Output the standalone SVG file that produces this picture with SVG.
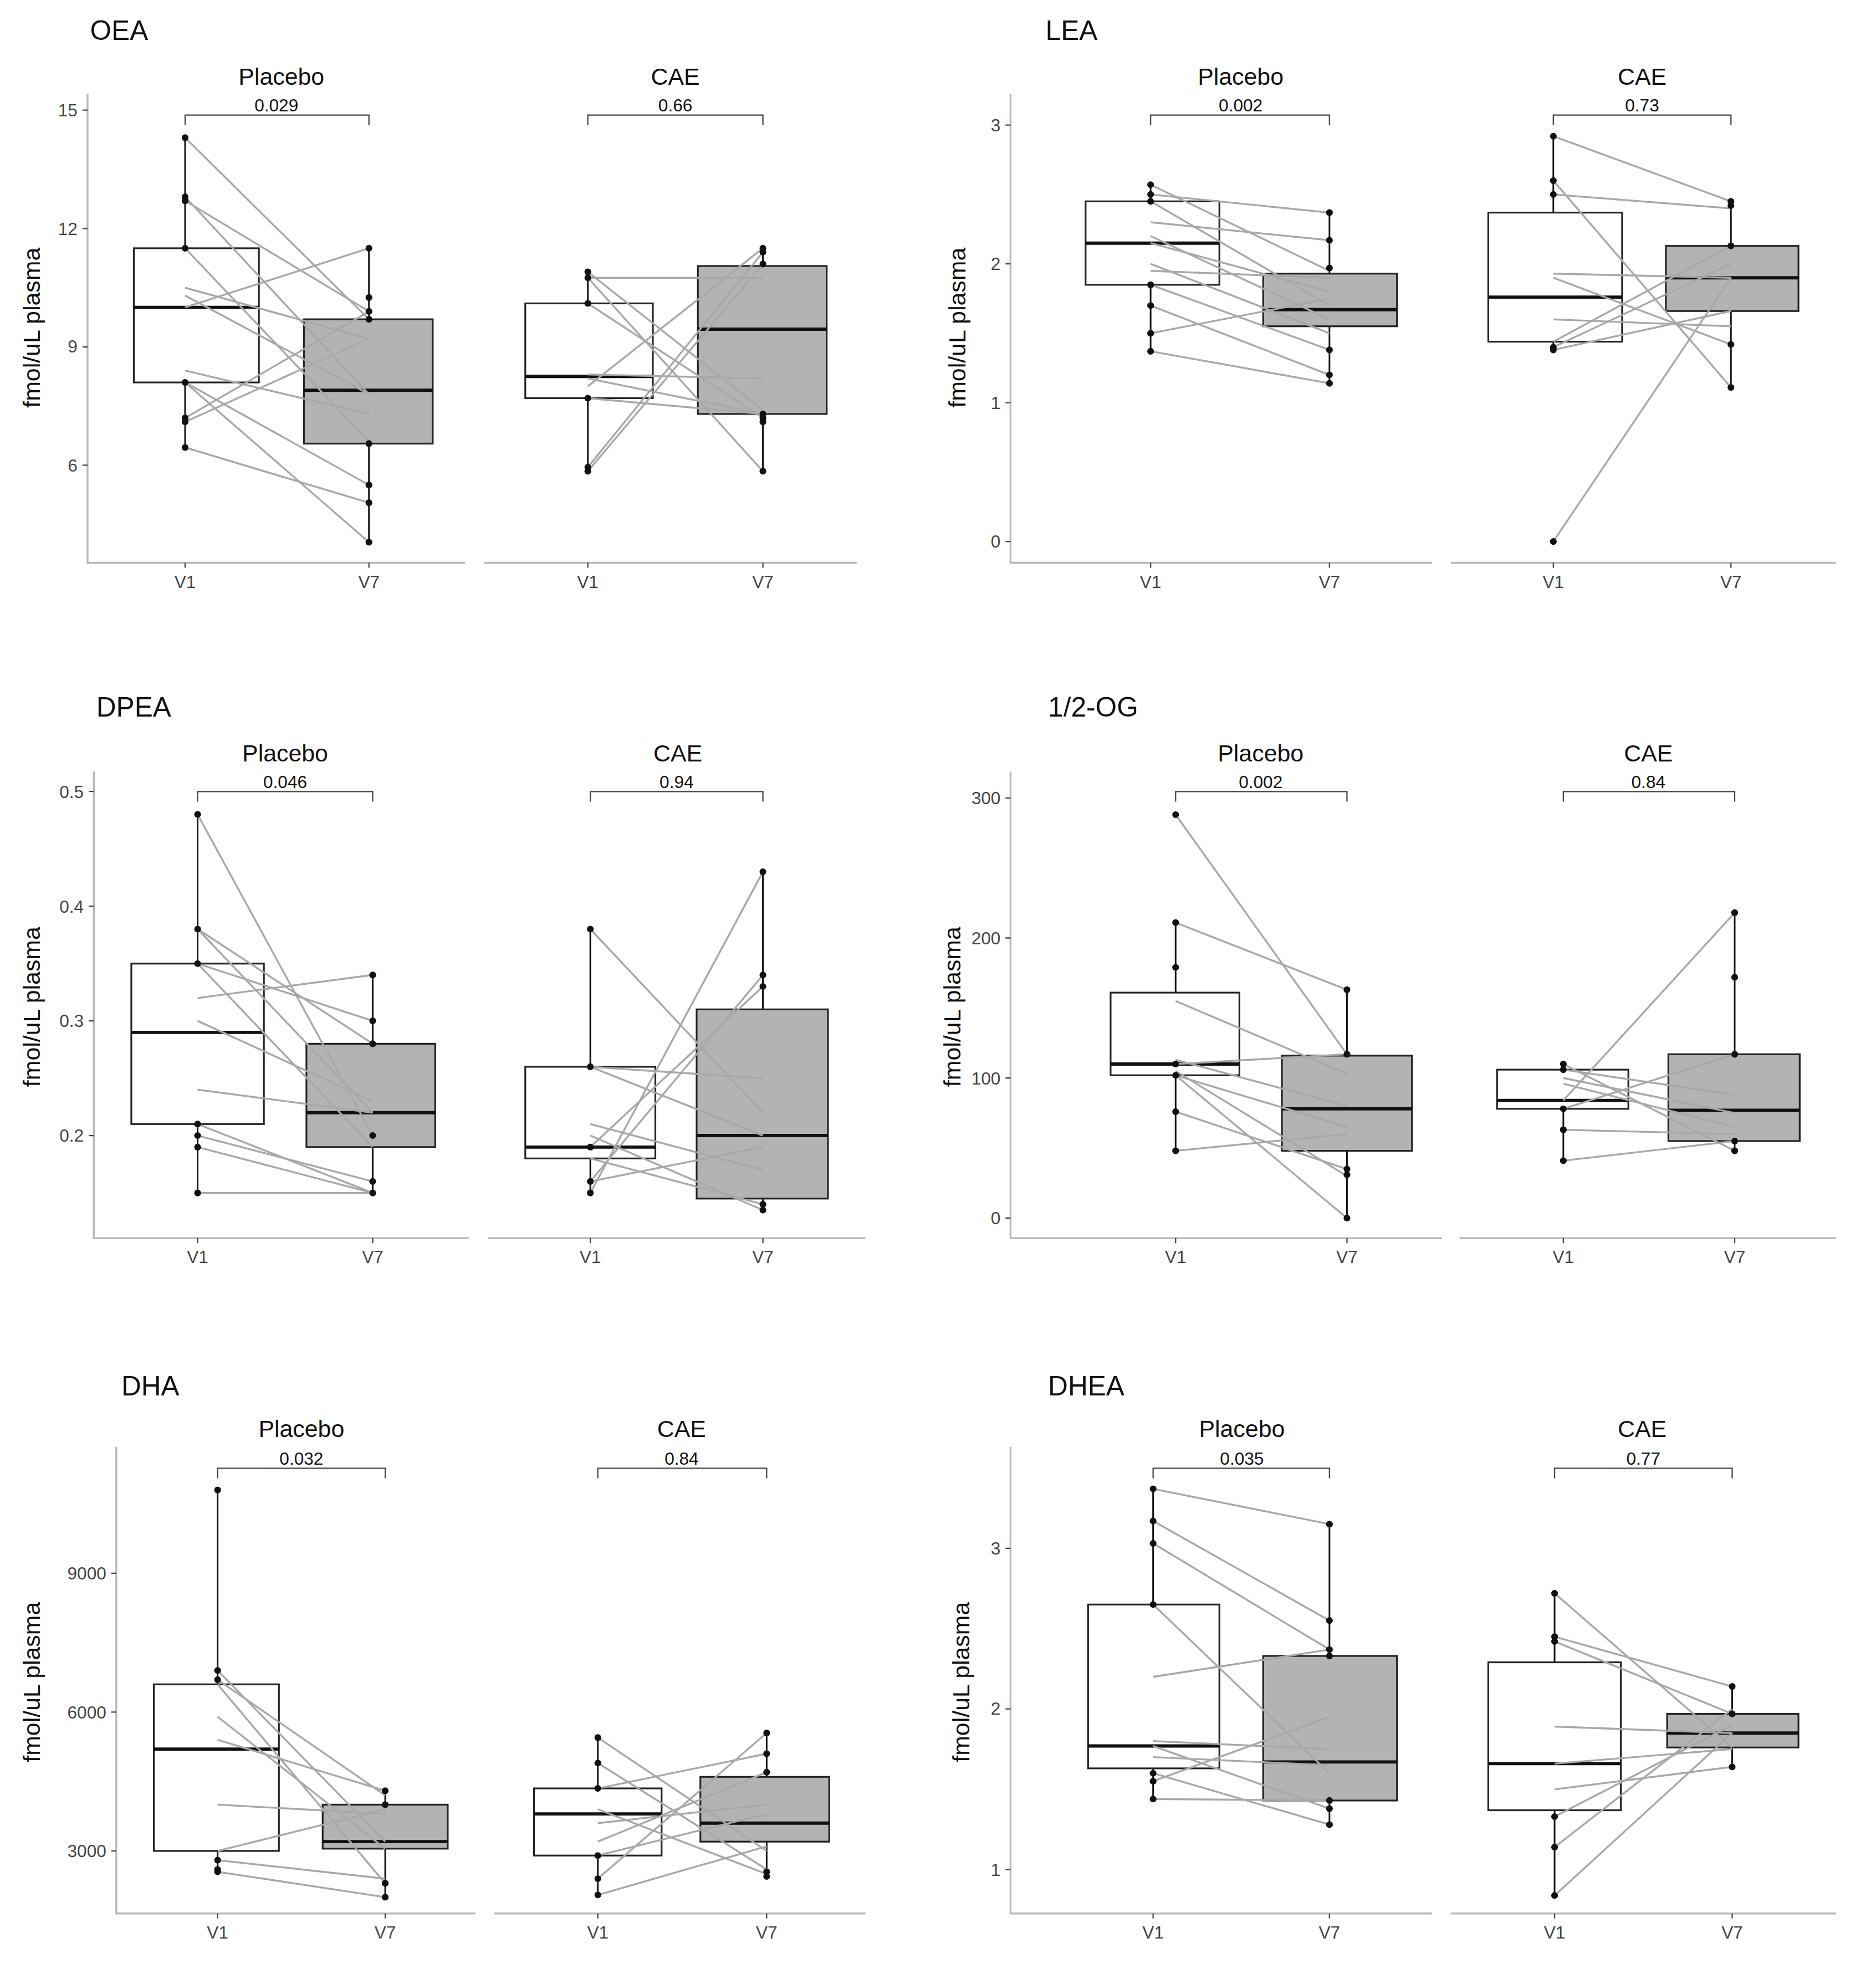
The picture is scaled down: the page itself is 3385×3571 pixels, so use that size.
<svg xmlns="http://www.w3.org/2000/svg" width="3385" height="3571" viewBox="0 0 3385 3571">
<style>
text{font-family:"Liberation Sans",Arial,sans-serif;fill:#111}
.t{font-size:22px}.s{font-size:19px;text-anchor:middle}.p{font-size:14px;text-anchor:middle}
.yl{font-size:14px;text-anchor:end;fill:#444}.xl{font-size:14px;text-anchor:middle;fill:#444}
.ya{font-size:19px;text-anchor:middle}
.ax{stroke:#b8b8b8;stroke-width:1.5;fill:none}
.tk{stroke:#444;stroke-width:1}
.w{stroke:#111;stroke-width:1.3}
.b0{fill:#fff;stroke:#222;stroke-width:1.4}.b1{fill:#b3b3b3;stroke:#222;stroke-width:1.4}
.m{stroke:#111;stroke-width:2.6}
.g{stroke:#a8a8a8;stroke-width:1.5}
.br{stroke:#444;stroke-width:1;fill:none}
circle{fill:#111;r:2.7}
</style>
<rect width="3385" height="3571" fill="#fff"/>
<g transform="scale(2.25667)">
<g id="oea">
<text class="t" x="72" y="32">OEA</text>
<text class="s" x="225" y="68">Placebo</text><text class="s" x="540" y="68">CAE</text>
<path class="br" d="M148,100V92H295V100M470,100V92H610V100"/>
<text class="p" x="221" y="89">0.029</text><text class="p" x="540" y="89">0.66</text>
<path class="ax" d="M70,75V450H372M387,450H685"/>
<path class="tk" d="M66,88H70M66,182.7H70M66,277.4H70M66,372H70M148,450v4M295,450v4M470,450v4M610,450v4"/>
<text class="yl" x="62" y="93">15</text><text class="yl" x="62" y="188">12</text><text class="yl" x="62" y="282">9</text><text class="yl" x="62" y="377">6</text>
<text class="xl" x="148" y="470">V1</text><text class="xl" x="295" y="470">V7</text><text class="xl" x="470" y="470">V1</text><text class="xl" x="610" y="470">V7</text>
<text class="ya" transform="translate(32,262) rotate(-90)">fmol/uL plasma</text>
<line class="w" x1="148" y1="110.1" x2="148" y2="357.8"/><line class="w" x1="295" y1="198.5" x2="295" y2="433.6"/>
<line class="w" x1="470" y1="217.4" x2="470" y2="376.8"/><line class="w" x1="610" y1="198.5" x2="610" y2="376.8"/>
<rect class="b0" x="107" y="198.5" width="100" height="107.3"/><line class="m" x1="107" x2="207" y1="245.8" y2="245.8"/>
<rect class="b1" x="243" y="255.3" width="103" height="99.4"/><line class="m" x1="243" x2="346" y1="312.1" y2="312.1"/>
<rect class="b0" x="420" y="242.6" width="102" height="75.8"/><line class="m" x1="420" x2="522" y1="301" y2="301"/>
<rect class="b1" x="558" y="212.7" width="103" height="118.3"/><line class="m" x1="558" x2="661" y1="263.2" y2="263.2"/>
<g class="g">
<line x1="148" y1="110.1" x2="295" y2="255.3"/><line x1="148" y1="157.4" x2="295" y2="315.2"/><line x1="148" y1="160.6" x2="295" y2="249"/>
<line x1="148" y1="198.5" x2="295" y2="353.1"/><line x1="148" y1="230" x2="295" y2="271"/><line x1="148" y1="236.3" x2="295" y2="315.2"/>
<line x1="148" y1="296.3" x2="295" y2="331"/><line x1="148" y1="305.8" x2="295" y2="433.6"/><line x1="148" y1="305.8" x2="295" y2="387.8"/>
<line x1="148" y1="334.2" x2="295" y2="249"/><line x1="148" y1="337.3" x2="295" y2="271"/><line x1="148" y1="357.8" x2="295" y2="402"/>
<line x1="148" y1="245.8" x2="295" y2="198.5"/>
<line x1="470" y1="222.1" x2="610" y2="222.1"/><line x1="470" y1="217.4" x2="610" y2="327.9"/><line x1="470" y1="242.6" x2="610" y2="334.2"/>
<line x1="470" y1="299.5" x2="610" y2="302.6"/><line x1="470" y1="302.6" x2="610" y2="331"/><line x1="470" y1="318.4" x2="610" y2="331"/>
<line x1="470" y1="373.6" x2="610" y2="201.6"/><line x1="470" y1="376.8" x2="610" y2="211.1"/><line x1="470" y1="308.9" x2="610" y2="198.5"/>
<line x1="470" y1="222.1" x2="610" y2="376.8"/>
</g>
<g>
<circle cx="148" cy="110.1"/><circle cx="148" cy="157.4"/><circle cx="148" cy="160.6"/><circle cx="148" cy="198.5"/><circle cx="148" cy="305.8"/><circle cx="148" cy="334.2"/><circle cx="148" cy="337.3"/><circle cx="148" cy="357.8"/>
<circle cx="295" cy="198.5"/><circle cx="295" cy="237.9"/><circle cx="295" cy="249"/><circle cx="295" cy="255.3"/><circle cx="295" cy="354.7"/><circle cx="295" cy="387.8"/><circle cx="295" cy="402"/><circle cx="295" cy="433.6"/>
<circle cx="470" cy="217.4"/><circle cx="470" cy="222.1"/><circle cx="470" cy="242.6"/><circle cx="470" cy="318.4"/><circle cx="470" cy="373.6"/><circle cx="470" cy="376.8"/>
<circle cx="610" cy="198.5"/><circle cx="610" cy="201.6"/><circle cx="610" cy="211.1"/><circle cx="610" cy="331"/><circle cx="610" cy="334.2"/><circle cx="610" cy="337.3"/><circle cx="610" cy="376.8"/>
</g>
</g>
<g id="lea">
<text class="t" x="836" y="32">LEA</text>
<text class="s" x="992" y="68">Placebo</text><text class="s" x="1313" y="68">CAE</text>
<path class="br" d="M920,100V92H1063V100M1242,100V92H1384V100"/>
<text class="p" x="992" y="89">0.002</text><text class="p" x="1313" y="89">0.73</text>
<path class="ax" d="M808,75V450H1145M1160,450H1468"/>
<path class="tk" d="M804,100H808M804,211H808M804,322H808M804,433H808M920,450v4M1063,450v4M1242,450v4M1384,450v4"/>
<text class="yl" x="800" y="105">3</text><text class="yl" x="800" y="216">2</text><text class="yl" x="800" y="327">1</text><text class="yl" x="800" y="438">0</text>
<text class="xl" x="920" y="470">V1</text><text class="xl" x="1063" y="470">V7</text><text class="xl" x="1242" y="470">V1</text><text class="xl" x="1384" y="470">V7</text>
<text class="ya" transform="translate(772,262) rotate(-90)">fmol/uL plasma</text>
<line class="w" x1="920" y1="147.7" x2="920" y2="280.9"/><line class="w" x1="1063" y1="170" x2="1063" y2="306.5"/>
<line class="w" x1="1242" y1="108.9" x2="1242" y2="279.8"/><line class="w" x1="1384" y1="161" x2="1384" y2="309.8"/>
<rect class="b0" x="868" y="161" width="107" height="66.7"/><line class="m" x1="868" x2="975" y1="194.4" y2="194.4"/>
<rect class="b1" x="1010" y="218.8" width="107" height="42.1"/><line class="m" x1="1010" x2="1117" y1="247.6" y2="247.6"/>
<rect class="b0" x="1190" y="170" width="107" height="103.2"/><line class="m" x1="1190" x2="1297" y1="237.6" y2="237.6"/>
<rect class="b1" x="1332" y="196.6" width="106" height="52.1"/><line class="m" x1="1332" x2="1438" y1="222.1" y2="222.1"/>
<g class="g">
<line x1="920" y1="147.7" x2="1063" y2="216.6"/><line x1="920" y1="155.5" x2="1063" y2="170"/><line x1="920" y1="161" x2="1063" y2="244.3"/>
<line x1="920" y1="177.7" x2="1063" y2="192.1"/><line x1="920" y1="188.8" x2="1063" y2="255.4"/><line x1="920" y1="194.4" x2="1063" y2="233.2"/>
<line x1="920" y1="216.6" x2="1063" y2="222.1"/><line x1="920" y1="227.7" x2="1063" y2="279.8"/><line x1="920" y1="244.3" x2="1063" y2="299.8"/>
<line x1="920" y1="266.5" x2="1063" y2="238.8"/><line x1="920" y1="280.9" x2="1063" y2="306.5"/><line x1="920" y1="211" x2="1063" y2="266.5"/>
<line x1="1242" y1="108.9" x2="1384" y2="161"/><line x1="1242" y1="144.4" x2="1384" y2="309.8"/><line x1="1242" y1="155.5" x2="1384" y2="166.6"/>
<line x1="1242" y1="218.8" x2="1384" y2="222.1"/><line x1="1242" y1="222.1" x2="1384" y2="275.4"/><line x1="1242" y1="255.4" x2="1384" y2="260.9"/>
<line x1="1242" y1="273.2" x2="1384" y2="196.6"/><line x1="1242" y1="277.6" x2="1384" y2="211"/><line x1="1242" y1="433" x2="1384" y2="222.1"/>
<line x1="1242" y1="279.8" x2="1384" y2="248.7"/>
</g>
<g>
<circle cx="920" cy="147.7"/><circle cx="920" cy="155.5"/><circle cx="920" cy="161"/><circle cx="920" cy="227.7"/><circle cx="920" cy="244.3"/><circle cx="920" cy="266.5"/><circle cx="920" cy="280.9"/>
<circle cx="1063" cy="170"/><circle cx="1063" cy="192.1"/><circle cx="1063" cy="214.3"/><circle cx="1063" cy="279.8"/><circle cx="1063" cy="299.8"/><circle cx="1063" cy="306.5"/>
<circle cx="1242" cy="108.9"/><circle cx="1242" cy="144.4"/><circle cx="1242" cy="155.5"/><circle cx="1242" cy="277.6"/><circle cx="1242" cy="279.8"/><circle cx="1242" cy="433"/>
<circle cx="1384" cy="161"/><circle cx="1384" cy="164.4"/><circle cx="1384" cy="196.6"/><circle cx="1384" cy="275.4"/><circle cx="1384" cy="309.8"/>
</g>
</g>
<g id="dpea">
<text class="t" x="77" y="573">DPEA</text>
<text class="s" x="228" y="609">Placebo</text><text class="s" x="542" y="609">CAE</text>
<path class="br" d="M158,641V633H298V641M472,641V633H610V641"/>
<text class="p" x="228" y="630">0.046</text><text class="p" x="541" y="630">0.94</text>
<path class="ax" d="M75,617V990H375M390,990H692"/>
<path class="tk" d="M71,632.9H75M71,724.6H75M71,816.3H75M71,908H75M158,990v4M298,990v4M472,990v4M610,990v4"/>
<text class="yl" x="67" y="638">0.5</text><text class="yl" x="67" y="730">0.4</text><text class="yl" x="67" y="821">0.3</text><text class="yl" x="67" y="913">0.2</text>
<text class="xl" x="158" y="1010">V1</text><text class="xl" x="298" y="1010">V7</text><text class="xl" x="472" y="1010">V1</text><text class="xl" x="610" y="1010">V7</text>
<text class="ya" transform="translate(32,805) rotate(-90)">fmol/uL plasma</text>
<line class="w" x1="158" y1="651.2" x2="158" y2="953.9"/><line class="w" x1="298" y1="779.6" x2="298" y2="953.9"/>
<line class="w" x1="472" y1="742.9" x2="472" y2="953.9"/><line class="w" x1="610" y1="697.1" x2="610" y2="967.6"/>
<rect class="b0" x="105" y="770.5" width="106" height="128.3"/><line class="m" x1="105" x2="211" y1="825.5" y2="825.5"/>
<rect class="b1" x="245" y="834.6" width="103" height="82.6"/><line class="m" x1="245" x2="348" y1="889.7" y2="889.7"/>
<rect class="b0" x="420" y="853" width="104" height="73.3"/><line class="m" x1="420" x2="524" y1="917.2" y2="917.2"/>
<rect class="b1" x="557" y="807.1" width="105" height="151.3"/><line class="m" x1="557" x2="662" y1="908" y2="908"/>
<g class="g">
<line x1="158" y1="651.2" x2="298" y2="908"/><line x1="158" y1="742.9" x2="298" y2="834.6"/><line x1="158" y1="742.9" x2="298" y2="889.7"/>
<line x1="158" y1="770.5" x2="298" y2="816.3"/><line x1="158" y1="798" x2="298" y2="779.6"/><line x1="158" y1="816.3" x2="298" y2="880.5"/>
<line x1="158" y1="871.3" x2="298" y2="889.7"/><line x1="158" y1="898.8" x2="298" y2="953.9"/><line x1="158" y1="908" x2="298" y2="944.7"/>
<line x1="158" y1="917.2" x2="298" y2="953.9"/><line x1="158" y1="953.9" x2="298" y2="953.9"/><line x1="158" y1="770.5" x2="298" y2="917.2"/>
<line x1="472" y1="742.9" x2="610" y2="889.7"/><line x1="472" y1="853" x2="610" y2="862.2"/><line x1="472" y1="953.9" x2="610" y2="697.1"/>
<line x1="472" y1="944.7" x2="610" y2="779.6"/><line x1="472" y1="917.2" x2="610" y2="788.8"/><line x1="472" y1="898.8" x2="610" y2="935.5"/>
<line x1="472" y1="853" x2="610" y2="908"/><line x1="472" y1="926.3" x2="610" y2="963"/><line x1="472" y1="944.7" x2="610" y2="917.2"/>
<line x1="472" y1="908" x2="610" y2="967.6"/>
</g>
<g>
<circle cx="158" cy="651.2"/><circle cx="158" cy="742.9"/><circle cx="158" cy="770.5"/><circle cx="158" cy="898.8"/><circle cx="158" cy="908"/><circle cx="158" cy="917.2"/><circle cx="158" cy="953.9"/>
<circle cx="298" cy="779.6"/><circle cx="298" cy="816.3"/><circle cx="298" cy="834.6"/><circle cx="298" cy="908"/><circle cx="298" cy="944.7"/><circle cx="298" cy="953.9"/>
<circle cx="472" cy="742.9"/><circle cx="472" cy="853"/><circle cx="472" cy="917.2"/><circle cx="472" cy="944.7"/><circle cx="472" cy="953.9"/>
<circle cx="610" cy="697.1"/><circle cx="610" cy="779.6"/><circle cx="610" cy="788.8"/><circle cx="610" cy="963"/><circle cx="610" cy="967.6"/>
</g>
</g>
<g id="og">
<text class="t" x="838" y="573">1/2-OG</text>
<text class="s" x="1008" y="609">Placebo</text><text class="s" x="1318" y="609">CAE</text>
<path class="br" d="M940,641V633H1077V641M1250,641V633H1387V641"/>
<text class="p" x="1008" y="630">0.002</text><text class="p" x="1318" y="630">0.84</text>
<path class="ax" d="M808,617V990H1153M1167,990H1468"/>
<path class="tk" d="M804,638H808M804,750H808M804,862H808M804,974H808M940,990v4M1077,990v4M1250,990v4M1387,990v4"/>
<text class="yl" x="800" y="643">300</text><text class="yl" x="800" y="755">200</text><text class="yl" x="800" y="867">100</text><text class="yl" x="800" y="979">0</text>
<text class="xl" x="940" y="1010">V1</text><text class="xl" x="1077" y="1010">V7</text><text class="xl" x="1250" y="1010">V1</text><text class="xl" x="1387" y="1010">V7</text>
<text class="ya" transform="translate(768,805) rotate(-90)">fmol/uL plasma</text>
<line class="w" x1="940" y1="737.7" x2="940" y2="920.2"/><line class="w" x1="1077" y1="791.4" x2="1077" y2="974"/>
<line class="w" x1="1250" y1="850.8" x2="1250" y2="928.1"/><line class="w" x1="1387" y1="729.8" x2="1387" y2="920.2"/>
<rect class="b0" x="888" y="793.7" width="103" height="66.1"/><line class="m" x1="888" x2="991" y1="850.8" y2="850.8"/>
<rect class="b1" x="1025" y="844.1" width="104" height="76.1"/><line class="m" x1="1025" x2="1129" y1="886.6" y2="886.6"/>
<rect class="b0" x="1197" y="855.3" width="105" height="31.3"/><line class="m" x1="1197" x2="1302" y1="879.9" y2="879.9"/>
<rect class="b1" x="1334" y="843" width="105" height="69.4"/><line class="m" x1="1334" x2="1439" y1="887.8" y2="887.8"/>
<g class="g">
<line x1="940" y1="651.4" x2="1077" y2="843"/><line x1="940" y1="737.7" x2="1077" y2="791.4"/><line x1="940" y1="800.4" x2="1077" y2="858.6"/>
<line x1="940" y1="850.8" x2="1077" y2="843"/><line x1="940" y1="859.8" x2="1077" y2="901.2"/><line x1="940" y1="859.8" x2="1077" y2="974"/>
<line x1="940" y1="888.9" x2="1077" y2="934.8"/><line x1="940" y1="920.2" x2="1077" y2="906.8"/><line x1="940" y1="847.4" x2="1077" y2="884.4"/>
<line x1="940" y1="856.4" x2="1077" y2="940.4"/>
<line x1="1250" y1="850.8" x2="1387" y2="920.2"/><line x1="1250" y1="855.3" x2="1387" y2="875.4"/><line x1="1250" y1="879.9" x2="1387" y2="729.8"/>
<line x1="1250" y1="886.6" x2="1387" y2="843"/><line x1="1250" y1="903.4" x2="1387" y2="906.8"/><line x1="1250" y1="928.1" x2="1387" y2="912.4"/>
<line x1="1250" y1="862" x2="1387" y2="890"/><line x1="1250" y1="866.5" x2="1387" y2="901.2"/>
</g>
<g>
<circle cx="940" cy="651.4"/><circle cx="940" cy="737.7"/><circle cx="940" cy="773.5"/><circle cx="940" cy="850.8"/><circle cx="940" cy="859.8"/><circle cx="940" cy="888.9"/><circle cx="940" cy="920.2"/>
<circle cx="1077" cy="791.4"/><circle cx="1077" cy="843"/><circle cx="1077" cy="934.8"/><circle cx="1077" cy="939.3"/><circle cx="1077" cy="974"/>
<circle cx="1250" cy="850.8"/><circle cx="1250" cy="855.3"/><circle cx="1250" cy="886.6"/><circle cx="1250" cy="903.4"/><circle cx="1250" cy="928.1"/>
<circle cx="1387" cy="729.8"/><circle cx="1387" cy="781.4"/><circle cx="1387" cy="843"/><circle cx="1387" cy="912.4"/><circle cx="1387" cy="920.2"/>
</g>
</g>
<g id="dha">
<text class="t" x="97" y="1116">DHA</text>
<text class="s" x="241" y="1149">Placebo</text><text class="s" x="545" y="1149">CAE</text>
<path class="br" d="M174,1182V1174H308V1182M478,1182V1174H613V1182"/>
<text class="p" x="241" y="1171">0.032</text><text class="p" x="545" y="1171">0.84</text>
<path class="ax" d="M93,1157V1530H380M395,1530H692"/>
<path class="tk" d="M89,1258H93M89,1369H93M89,1480H93M174,1530v4M308,1530v4M478,1530v4M613,1530v4"/>
<text class="yl" x="85" y="1263">9000</text><text class="yl" x="85" y="1374">6000</text><text class="yl" x="85" y="1485">3000</text>
<text class="xl" x="174" y="1550">V1</text><text class="xl" x="308" y="1550">V7</text><text class="xl" x="478" y="1550">V1</text><text class="xl" x="613" y="1550">V7</text>
<text class="ya" transform="translate(32,1345) rotate(-90)">fmol/uL plasma</text>
<line class="w" x1="174" y1="1191.4" x2="174" y2="1496.7"/><line class="w" x1="308" y1="1431.9" x2="308" y2="1517"/>
<line class="w" x1="478" y1="1389.4" x2="478" y2="1515.2"/><line class="w" x1="613" y1="1385.7" x2="613" y2="1500.4"/>
<rect class="b0" x="123" y="1346.8" width="100" height="133.2"/><line class="m" x1="123" x2="223" y1="1398.6" y2="1398.6"/>
<rect class="b1" x="258" y="1443" width="100" height="35.2"/><line class="m" x1="258" x2="358" y1="1472.6" y2="1472.6"/>
<rect class="b0" x="427" y="1430" width="102" height="53.7"/><line class="m" x1="427" x2="529" y1="1450.4" y2="1450.4"/>
<rect class="b1" x="560" y="1420.8" width="103" height="51.8"/><line class="m" x1="560" x2="663" y1="1457.8" y2="1457.8"/>
<g class="g">
<line x1="174" y1="1335.7" x2="308" y2="1472.6"/><line x1="174" y1="1343.1" x2="308" y2="1435.6"/><line x1="174" y1="1372.7" x2="308" y2="1478.2"/>
<line x1="174" y1="1391.2" x2="308" y2="1431.9"/><line x1="174" y1="1443" x2="308" y2="1450.4"/><line x1="174" y1="1487.4" x2="308" y2="1502.2"/>
<line x1="174" y1="1496.7" x2="308" y2="1517"/><line x1="174" y1="1346.8" x2="308" y2="1505.9"/><line x1="174" y1="1480" x2="308" y2="1446.7"/>
<line x1="478" y1="1389.4" x2="613" y2="1480"/><line x1="478" y1="1409.7" x2="613" y2="1494.8"/><line x1="478" y1="1430" x2="613" y2="1402.3"/>
<line x1="478" y1="1457.8" x2="613" y2="1443"/><line x1="478" y1="1472.6" x2="613" y2="1417.1"/><line x1="478" y1="1483.7" x2="613" y2="1450.4"/>
<line x1="478" y1="1502.2" x2="613" y2="1385.7"/><line x1="478" y1="1515.2" x2="613" y2="1476.3"/><line x1="478" y1="1446.7" x2="613" y2="1498.5"/>
</g>
<g>
<circle cx="174" cy="1191.4"/><circle cx="174" cy="1335.7"/><circle cx="174" cy="1343.1"/><circle cx="174" cy="1487.4"/><circle cx="174" cy="1494.8"/><circle cx="174" cy="1496.7"/>
<circle cx="308" cy="1431.9"/><circle cx="308" cy="1443"/><circle cx="308" cy="1505.9"/><circle cx="308" cy="1517"/>
<circle cx="478" cy="1389.4"/><circle cx="478" cy="1409.7"/><circle cx="478" cy="1430"/><circle cx="478" cy="1483.7"/><circle cx="478" cy="1502.2"/><circle cx="478" cy="1515.2"/>
<circle cx="613" cy="1385.7"/><circle cx="613" cy="1402.3"/><circle cx="613" cy="1417.1"/><circle cx="613" cy="1496.7"/><circle cx="613" cy="1500.4"/>
</g>
</g>
<g id="dhea">
<text class="t" x="838" y="1116">DHEA</text>
<text class="s" x="993" y="1149">Placebo</text><text class="s" x="1313" y="1149">CAE</text>
<path class="br" d="M922,1182V1174H1063V1182M1243,1182V1174H1385V1182"/>
<text class="p" x="993" y="1171">0.035</text><text class="p" x="1314" y="1171">0.77</text>
<path class="ax" d="M808,1157V1530H1145M1160,1530H1468"/>
<path class="tk" d="M804,1238H808M804,1366.5H808M804,1495H808M922,1530v4M1063,1530v4M1243,1530v4M1385,1530v4"/>
<text class="yl" x="800" y="1243">3</text><text class="yl" x="800" y="1371">2</text><text class="yl" x="800" y="1500">1</text>
<text class="xl" x="922" y="1550">V1</text><text class="xl" x="1063" y="1550">V7</text><text class="xl" x="1243" y="1550">V1</text><text class="xl" x="1385" y="1550">V7</text>
<text class="ya" transform="translate(775,1345) rotate(-90)">fmol/uL plasma</text>
<line class="w" x1="922" y1="1190.5" x2="922" y2="1438.5"/><line class="w" x1="1063" y1="1218.7" x2="1063" y2="1459"/>
<line class="w" x1="1243" y1="1274" x2="1243" y2="1515.6"/><line class="w" x1="1385" y1="1348.5" x2="1385" y2="1412.8"/>
<rect class="b0" x="870" y="1283" width="105" height="131"/><line class="m" x1="870" x2="975" y1="1396.1" y2="1396.1"/>
<rect class="b1" x="1010" y="1324.1" width="107" height="115.6"/><line class="m" x1="1010" x2="1117" y1="1408.9" y2="1408.9"/>
<rect class="b0" x="1190" y="1329.2" width="106" height="118.3"/><line class="m" x1="1190" x2="1296" y1="1410.2" y2="1410.2"/>
<rect class="b1" x="1333" y="1370.4" width="105" height="26.9"/><line class="m" x1="1333" x2="1438" y1="1385.8" y2="1385.8"/>
<g class="g">
<line x1="922" y1="1190.5" x2="1063" y2="1218.7"/><line x1="922" y1="1216.2" x2="1063" y2="1295.8"/><line x1="922" y1="1234.1" x2="1063" y2="1319"/>
<line x1="922" y1="1283" x2="1063" y2="1417.9"/><line x1="922" y1="1340.8" x2="1063" y2="1319"/><line x1="922" y1="1392.2" x2="1063" y2="1398.6"/>
<line x1="922" y1="1396.1" x2="1063" y2="1446.2"/><line x1="922" y1="1417.9" x2="1063" y2="1459"/><line x1="922" y1="1424.3" x2="1063" y2="1372.9"/>
<line x1="922" y1="1438.5" x2="1063" y2="1439.7"/><line x1="922" y1="1405" x2="1063" y2="1411.5"/>
<line x1="1243" y1="1274" x2="1385" y2="1397.3"/><line x1="1243" y1="1308.7" x2="1385" y2="1348.5"/><line x1="1243" y1="1312.5" x2="1385" y2="1370.4"/>
<line x1="1243" y1="1380.6" x2="1385" y2="1385.8"/><line x1="1243" y1="1410.2" x2="1385" y2="1398.6"/><line x1="1243" y1="1430.8" x2="1385" y2="1412.8"/>
<line x1="1243" y1="1452.6" x2="1385" y2="1379.4"/><line x1="1243" y1="1477" x2="1385" y2="1366.5"/><line x1="1243" y1="1515.6" x2="1385" y2="1385.8"/>
</g>
<g>
<circle cx="922" cy="1190.5"/><circle cx="922" cy="1216.2"/><circle cx="922" cy="1234.1"/><circle cx="922" cy="1283"/><circle cx="922" cy="1417.9"/><circle cx="922" cy="1424.3"/><circle cx="922" cy="1438.5"/>
<circle cx="1063" cy="1218.7"/><circle cx="1063" cy="1295.8"/><circle cx="1063" cy="1319"/><circle cx="1063" cy="1324.1"/><circle cx="1063" cy="1439.7"/><circle cx="1063" cy="1446.2"/><circle cx="1063" cy="1459"/>
<circle cx="1243" cy="1274"/><circle cx="1243" cy="1308.7"/><circle cx="1243" cy="1312.5"/><circle cx="1243" cy="1452.6"/><circle cx="1243" cy="1477"/><circle cx="1243" cy="1515.6"/>
<circle cx="1385" cy="1348.5"/><circle cx="1385" cy="1370.4"/><circle cx="1385" cy="1412.8"/>
</g>
</g>
</g>
</svg>
